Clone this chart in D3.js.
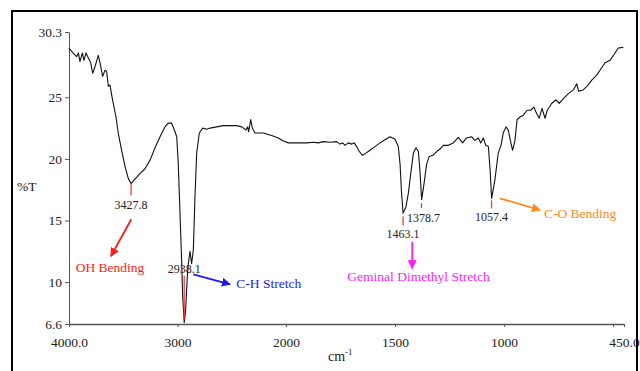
<!DOCTYPE html>
<html>
<head>
<meta charset="utf-8">
<script src="https://cdn.jsdelivr.net/npm/d3@7"></script>
<style>
  body { margin: 0; background: #fff; }
</style>
</head>
<body>
<div id="chart-area"></div>
<script>
// IR spectrum (wavenumber cm-1, %T)
const wavenumbers = [4000, 3960, 3929, 3914, 3899, 3877, 3862, 3843, 3822, 3800, 3782, 3760, 3730, 3714, 3690,
  3668, 3653, 3638, 3622, 3607, 3592, 3567, 3546, 3515, 3484, 3453, 3428, 3392, 3346, 3300, 3253, 3207, 3161,
  3115, 3085, 3054, 3029, 3007, 2993, 2977, 2961, 2952, 2938, 2925, 2910, 2900, 2885, 2870, 2854, 2839, 2823,
  2799, 2768, 2731, 2700, 2639, 2578, 2516, 2455, 2408, 2369, 2353, 2344, 2325, 2310, 2286, 2209, 2132, 2071,
  2025, 1989, 1967, 1936, 1905, 1875, 1852, 1829, 1798, 1768, 1752, 1740, 1729, 1714, 1699, 1687, 1676, 1664,
  1650, 1635, 1615, 1592, 1569, 1546, 1523, 1500, 1485, 1477, 1470, 1463, 1450, 1439, 1428, 1416, 1404, 1393,
  1386, 1378, 1367, 1355, 1343, 1325, 1309, 1294, 1279, 1256, 1233, 1210, 1190, 1172, 1149, 1134, 1118, 1107,
  1095, 1084, 1072, 1064, 1057, 1042, 1027, 1014, 1004, 991, 981, 970, 961, 950, 940, 927, 912, 894, 878, 863,
  851, 839, 826, 812, 802, 782, 762, 747, 728, 705, 682, 667, 658, 637, 619, 598, 575, 560, 537, 514, 491, 476, 453];
const transmittance = [29.0, 28.57, 28.3, 28.6, 27.9, 28.6, 28.0, 28.6, 28.2, 27.8, 26.95, 27.5, 28.4, 27.8, 26.7,
  27.2, 27.1, 25.9, 26.0, 25.2, 24.5, 23.4, 22.1, 20.7, 19.4, 18.4, 18.0, 18.35, 18.8, 19.2, 19.9, 20.9, 21.8,
  22.6, 22.9, 22.9, 22.35, 21.8, 19.6, 15.6, 11.5, 8.8, 6.7, 7.7, 10.4, 11.5, 12.5, 11.5, 12.6, 16.9, 20.5,
  22.1, 22.5, 22.4, 22.5, 22.6, 22.7, 22.7, 22.7, 22.6, 22.35, 22.6, 22.2, 23.2, 22.5, 22.1, 22.1, 21.9, 21.7,
  21.45, 21.3, 21.3, 21.3, 21.3, 21.35, 21.3, 21.4, 21.35, 21.4, 21.2, 21.3, 21.1, 21.3, 21.2, 21.3, 21.0, 20.6,
  20.3, 20.45, 20.7, 21.0, 21.3, 21.55, 21.8, 21.6, 21.0, 19.6, 17.2, 15.6, 16.1, 17.2, 18.8, 20.45, 20.9, 20.6,
  19.1, 16.7, 18.0, 19.6, 20.2, 20.3, 20.6, 20.8, 21.1, 21.1, 21.3, 21.75, 21.3, 21.7, 21.8, 21.5, 21.7, 21.3,
  21.7, 21.1, 21.0, 19.1, 16.8, 18.3, 20.45, 21.1, 22.1, 22.6, 22.35, 21.4, 20.7, 21.5, 23.2, 23.4, 23.55, 23.95, 23.95, 24.2,
  23.7, 23.3, 24.1, 23.3, 23.95, 24.5, 24.8, 24.5, 24.9, 25.3, 25.6, 26.1, 25.5, 25.6, 25.9, 26.4, 26.8, 27.2, 27.8, 28.0, 28.6, 29.0, 29.05];

const xTickValues = [4000, 3000, 2000, 1500, 1000, 500, 450];
const xTickLabels = ["4000.0", "3000", "2000", "1500", "1000", "", "450.0"];
const yTickValues = [6.6, 10, 15, 20, 25, 30.3];
const yTickLabels = ["6.6", "10", "15", "20", "25", "30.3"];

const peakWn = [3427.8, 2938.1, 1463.1, 1378.7, 1057.4];
const peakT = [18.0, 6.7, 15.6, 16.7, 16.8];
const peakLabels = ["3427.8", "2938.1", "1463.1", "1378.7", "1057.4"];

const groupNames = ["OH Bending", "C-H Stretch", "Geminal Dimethyl Stretch", "C-O Bending"];
const groupColors = ["#ff1a1a", "#1a1aff", "#ff19ff", "#ff8a1a"];

const serif = "'Liberation Serif', 'Times New Roman', Times, 'DejaVu Serif', serif";

// layout
const W = 640, H = 371;
const svg = d3.select("#chart-area").append("svg")
  .attr("width", W).attr("height", H)
  .style("display", "block");

// outer frame
svg.append("rect")
  .attr("x", 12).attr("y", 11)
  .attr("width", 625).attr("height", 400)
  .attr("fill", "none").attr("stroke", "#000").attr("stroke-width", 2);

// IR convention: scale doubles below 2000 cm-1
const x = d3.scaleLinear().domain([4000, 2000, 450]).range([69, 286, 624]);
const y = d3.scaleLinear().domain([6.6, 30.3]).range([324, 32]);

function styleAxis(g) {
  g.attr("font-family", serif).attr("font-size", 13.5);
  g.selectAll("path, line").attr("stroke", "#555");
  g.selectAll("text").attr("fill", "#222");
}

const xAxisCall = d3.axisBottom(x)
  .tickValues(xTickValues)
  .tickFormat((d, i) => xTickLabels[i])
  .tickSize(3).tickPadding(10).tickSizeOuter(0);
svg.append("g")
  .attr("class", "x-axis")
  .attr("transform", `translate(0, ${y(6.6)})`)
  .call(xAxisCall)
  .call(styleAxis)
  .call(g => g.select(".domain").attr("stroke-width", 1.6));

const yAxisCall = d3.axisLeft(y)
  .tickValues(yTickValues)
  .tickFormat((d, i) => yTickLabels[i])
  .tickSize(4).tickPadding(3).tickSizeOuter(0);
svg.append("g")
  .attr("class", "y-axis")
  .attr("transform", `translate(${x(4000)}, 0)`)
  .call(yAxisCall)
  .call(styleAxis);

// axis titles
svg.append("text")
  .attr("x", 17).attr("y", 191)
  .attr("font-family", serif)
  .attr("font-size", 13.5).attr("fill", "#222")
  .text("%T");

const xTitle = svg.append("text")
  .attr("x", 328).attr("y", 361)
  .attr("font-family", serif)
  .attr("font-size", 14).attr("fill", "#222")
  .text("cm");
xTitle.append("tspan")
  .attr("dy", -6).attr("font-size", 9)
  .text("-1");

// spectrum
const spectrum = wavenumbers.map((w, i) => ({ w: w, t: transmittance[i] }));
const line = d3.line()
  .x(d => x(d.w))
  .y(d => y(d.t));
svg.append("path")
  .datum(spectrum)
  .attr("fill", "none")
  .attr("stroke", "#111")
  .attr("stroke-width", 1.1)
  .attr("stroke-linejoin", "round")
  .attr("d", line);

// peak markers: [marker top, marker bottom, label baseline] offsets from the minimum, anchor, dx
const peakLayout = [
  [0, 12, 25, "middle", 0],
  [-47, -3, -50, "middle", 0],
  [3.5, 12.5, 25, "middle", 0],
  [3.5, 8.5, 22, "start", -14.5],
  [2, 10, 23, "middle", 0]
];
peakWn.forEach((w, i) => {
  const px = x(w), py = y(peakT[i]), L = peakLayout[i];
  svg.append("line")
    .attr("x1", px).attr("x2", px)
    .attr("y1", py + L[0]).attr("y2", py + L[1])
    .attr("stroke", "#ff2a2a").attr("stroke-width", 1.2);
  svg.append("text")
    .attr("x", px + L[4]).attr("y", py + L[2])
    .attr("text-anchor", L[3])
    .attr("font-family", serif)
    .attr("font-size", 12).attr("fill", "#222")
    .text(peakLabels[i]);
});

// functional group annotations (text anchor + arrow, in data units)
const groupText = [[3938, 10.85], [2458, 9.5], [1719, 10.11], [817, 15.18]];
const groupArrows = [[3426, 15.1, 3613, 12.1], [2854, 10.63, 2516, 9.82],
  [1421, 13.28, 1421, 11.12], [1019, 16.8, 835, 15.85]];

const defs = svg.append("defs");
groupColors.forEach((c, i) => {
  defs.append("marker")
    .attr("id", "arrow" + i)
    .attr("viewBox", "0 0 10 10")
    .attr("refX", 9).attr("refY", 5)
    .attr("markerWidth", 9).attr("markerHeight", 9)
    .attr("markerUnits", "userSpaceOnUse")
    .attr("orient", "auto")
    .append("path")
      .attr("d", "M0,0 L10,5 L0,10 z")
      .attr("fill", c);
});

groupNames.forEach((name, i) => {
  const a = groupArrows[i];
  svg.append("line")
    .attr("x1", x(a[0])).attr("y1", y(a[1]))
    .attr("x2", x(a[2])).attr("y2", y(a[3]))
    .attr("stroke", groupColors[i]).attr("stroke-width", 1.8)
    .attr("marker-end", `url(#arrow${i})`);
  svg.append("text")
    .attr("x", x(groupText[i][0])).attr("y", y(groupText[i][1]))
    .attr("font-family", serif)
    .attr("font-size", 13.5)
    .attr("fill", groupColors[i])
    .text(name);
});
</script>
</body>
</html>
